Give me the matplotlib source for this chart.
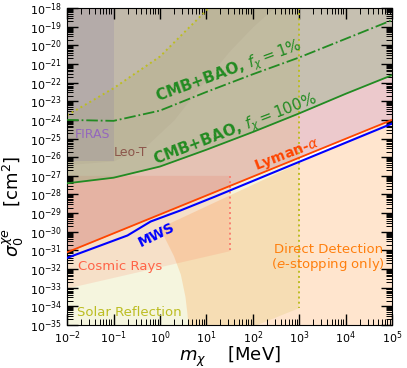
import numpy as np
import matplotlib.pyplot as plt
from matplotlib.ticker import LogLocator, NullFormatter

# all values are log10(m / MeV) and log10(sigma / cm^2)
cmb100_x = [-2, -1, 0, 1, 2, 3, 4, 5]
cmb100_y = [-27.4, -27.1, -26.5, -25.6, -24.65, -23.65, -22.6, -21.6]
cmb1_x = [-2, -1, 0, 1, 2, 3, 4, 5]
cmb1_y = [-24.0, -24.05, -23.5, -22.5, -21.55, -20.65, -19.65, -18.65]
lyman_x = [-2, 5]
lyman_y = [-31.1, -24.0]
mws_x = [-2, -0.7, -0.2, 0.45, 1.2, 3, 5]
mws_y = [-31.4, -30.2, -29.45, -28.85, -28.1, -26.25, -24.2]
solar_x = [-2, -2, -1, 0, 1.05, 3, 3, 2.1]
solar_y = [-35, -23.75, -22.3, -20.6, -18, -18, -34.1, -35]
cr_x = [-2, 1.5, 1.5, -2]
cr_y = [-33.05, -31.05, -27.0, -27.0]
dd_x = [0.62, 0.55, 0.45, 0.3, 0.0]
dd_y = [-35, -33.5, -32.3, -31.3, -29.8]
leot_x = [-2, -1, -0.3, 0.3, 0.87, 1.5, 2.0, 2.45]
leot_y = [-26.4, -26.2, -25.4, -24.0, -22.2, -20.3, -19.0, -18]
firas_x = [-2, -1, -1, -2]
firas_y = [-26.2, -26.2, -18, -18]

def p(v):
    return 10.0 ** np.asarray(v, dtype=float)

fig = plt.figure(figsize=(4.07, 3.68), dpi=100)
ax = fig.add_axes([0.165, 0.117, 0.798, 0.861])
ax.set_xscale('log')
ax.set_yscale('log')
ax.set_xlim(1e-2, 1e5)
ax.set_ylim(1e-35, 1e-18)

# shaded regions
ax.fill(p(solar_x), p(solar_y), color='tab:olive', alpha=0.15, lw=0, zorder=1)
# direct detection: upper edge follows the Lyman-alpha line
ddx = list(dd_x) + [5, 5]
ddy = list(dd_y) + [float(np.interp(5, lyman_x, lyman_y)), -35]
ax.fill(p(ddx), p(ddy), color='tab:orange', alpha=0.2, lw=0, zorder=1)
ax.fill(p(cr_x), p(cr_y), color='tomato', alpha=0.14, lw=0, zorder=1)
ax.fill_between(p(lyman_x), p(lyman_y), 1e-18, color='#b8323c', alpha=0.26, lw=0, zorder=1)
ax.fill_between(p(leot_x), p(leot_y), 1e-18, color='tab:brown', alpha=0.08, lw=0, zorder=1)
ax.fill(p(firas_x), p(firas_y), color='tab:purple', alpha=0.22, lw=0, zorder=1)
ax.fill_between(p(cmb100_x), p(cmb100_y), 1e-18, color='#70ac75', alpha=0.3, lw=0, zorder=1)

# boundary lines
ax.plot(p(solar_x[1:5]), p(solar_y[1:5]), ':', color='tab:olive', lw=1.4, zorder=2)
ax.plot(p([3, 3]), p([-18, -34.1]), ':', color='tab:olive', lw=1.4, zorder=2)
ax.plot(p([1.5, 1.5]), p([-27.0, -31.05]), ':', color='salmon', lw=1.4, zorder=2)
ax.plot(p(cmb100_x), p(cmb100_y), '-', color='forestgreen', lw=1.3, zorder=3)
ax.plot(p(cmb1_x), p(cmb1_y), '-.', color='forestgreen', lw=1.3, zorder=3)
ax.plot(p(mws_x), p(mws_y), '-', color='blue', lw=1.5, zorder=3)
ax.plot(p(lyman_x), p(lyman_y), '-', color='orangered', lw=1.3, zorder=4)

# labels
ax.text(10**1.49, 10**-21.44, r'CMB+BAO, $f_\chi = 1\%$', color='forestgreen', fontsize=11,
        fontweight='bold', rotation=20, ha='center', va='center')
ax.text(10**1.62, 10**-24.56, r'CMB+BAO, $f_\chi = 100\%$', color='forestgreen', fontsize=11,
        fontweight='bold', rotation=21, ha='center', va='center')
ax.text(10**2.74, 10**-25.85, r'Lyman-$\alpha$', color='orangered', fontsize=10,
        fontweight='bold', rotation=21, ha='center', va='center')
ax.text(10**-0.08, 10**-30.16, 'MWS', color='blue', fontsize=10,
        fontweight='bold', rotation=26, ha='center', va='center')
ax.text(10**-1.46, 10**-24.78, 'FIRAS', color='tab:purple', fontsize=9, ha='center', va='center')
ax.text(10**-0.64, 10**-25.75, 'Leo-T', color='tab:brown', fontsize=9, ha='center', va='center')
ax.text(10**-0.86, 10**-31.88, 'Cosmic Rays', color='tomato', fontsize=9.5, ha='center', va='center')
ax.text(10**-0.66, 10**-34.35, 'Solar Reflection', color='tab:olive', fontsize=9.5, ha='center', va='center')
ax.text(10**3.63, 10**-31.4, 'Direct Detection\n($e$-stopping only)', color='tab:orange',
        fontsize=9.5, ha='center', va='center', linespacing=1.0)

ax.xaxis.set_major_locator(LogLocator(base=10, numticks=20))
ax.xaxis.set_minor_locator(LogLocator(base=10, subs=np.arange(2, 10), numticks=20))
ax.yaxis.set_major_locator(LogLocator(base=10, numticks=30))
ax.yaxis.set_minor_locator(LogLocator(base=10, subs=np.arange(2, 10), numticks=30))
ax.xaxis.set_minor_formatter(NullFormatter())
ax.yaxis.set_minor_formatter(NullFormatter())
ax.tick_params(which='both', direction='in', top=True, right=True, labelsize=8)
ax.tick_params(which='major', length=8, width=1)
ax.tick_params(which='minor', length=4, width=0.7)

ax.set_xlabel(r'$m_\chi$    [MeV]', fontsize=13)
ax.set_ylabel(r'$\sigma_0^{\chi e}$    [cm$^2$]', fontsize=13)
ax.yaxis.set_label_coords(-0.128, 0.375)
ax.xaxis.set_label_coords(0.5, -0.062)

plt.savefig('out.png', dpi=100)
